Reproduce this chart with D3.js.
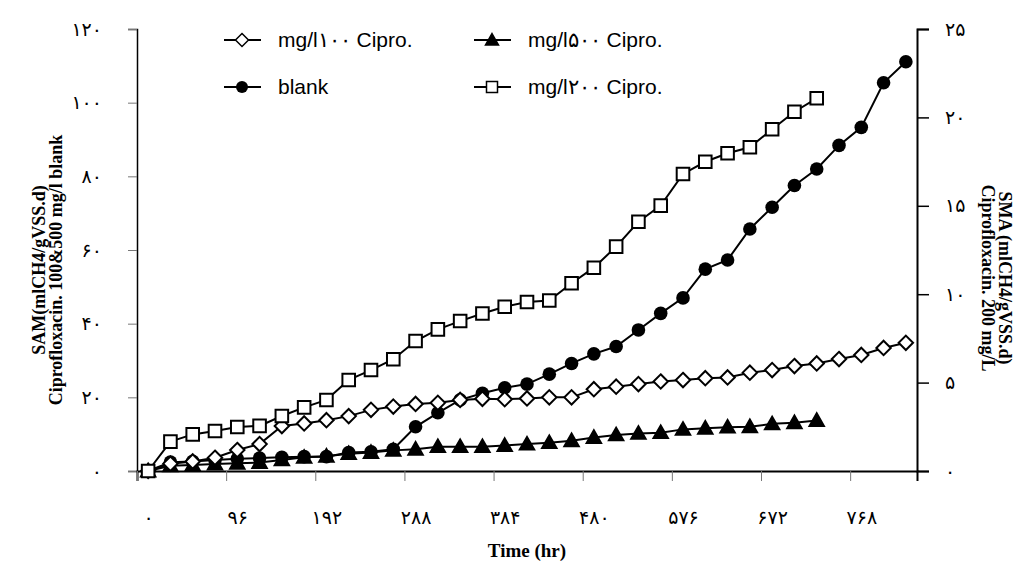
<!DOCTYPE html>
<html>
<head>
<meta charset="utf-8">
<script src="https://cdn.jsdelivr.net/npm/d3@7"></script>
<style>
body{margin:0;background:#fff}
</style>
</head>
<body>
<svg id="chart"></svg>
<script>
// sampling every 24 hr
const hours = d3.range(0, 817, 24);

// left axis series
const blank = [0, 2.4, 2.6, 3.0, 3.3, 3.5, 3.7, 3.9, 3.9, 5.0, 5.2, 5.9, 12.0, 15.8, 19.3, 21.1, 22.6, 23.6,
    26.3, 29.2, 31.8, 33.8, 38.3, 42.8, 47.0, 54.8, 57.3, 65.7, 71.6, 77.5, 82.0, 88.4, 93.3, 105.4, 111.1];
const cipro100 = [0, 2.0, 2.6, 3.6, 5.7, 7.3, 12.2, 12.9, 13.8, 14.9, 16.6, 17.5, 18.2, 18.5, 19.3, 19.6, 19.5,
    19.7, 20.0, 20.0, 22.2, 22.9, 23.6, 24.3, 24.7, 25.2, 25.4, 26.7, 27.4, 28.5, 29.2, 30.4, 31.5, 33.4, 34.8];
const cipro500 = [0, 1.4, 1.6, 1.9, 2.1, 2.3, 3.0, 3.7, 4.0, 4.7, 5.0, 5.6, 5.9, 6.6, 6.6, 6.6, 6.9, 7.3, 7.7,
    8.2, 9.1, 9.8, 10.2, 10.4, 11.3, 11.6, 11.9, 12.0, 12.8, 13.1, 13.7];
// right axis series
const cipro200 = [0, 1.66, 2.07, 2.26, 2.49, 2.55, 3.11, 3.60, 4.02, 5.15, 5.71, 6.32, 7.35, 8.01, 8.48, 8.91,
    9.29, 9.56, 9.64, 10.62, 11.50, 12.69, 14.10, 15.01, 16.80, 17.49, 17.97, 18.31, 19.33, 20.32, 21.08];

const leftTicks = [0, 20, 40, 60, 80, 100, 120];
const leftLabels = ["۰", "۲۰", "۴۰", "۶۰", "۸۰", "۱۰۰", "۱۲۰"];
const rightTicks = [0, 5, 10, 15, 20, 25];
const rightLabels = ["۰", "۵", "۱۰", "۱۵", "۲۰", "۲۵"];
const xTicks = [0, 96, 192, 288, 384, 480, 576, 672, 768];
const xLabels = ["۰", "۹۶", "۱۹۲", "۲۸۸", "۳۸۴", "۴۸۰", "۵۷۶", "۶۷۲", "۷۶۸"];

const legendNames = ["mg/l۱۰۰ Cipro.", "mg/l۵۰۰ Cipro.", "blank", "mg/l۲۰۰ Cipro."];

const width = 1036, height = 567;
const svg = d3.select("#chart").attr("width", width).attr("height", height)
    .style("background-color", "white");

const x = d3.scaleLinear().domain([-12, 828]).range([137, 917]);
const yL = d3.scaleLinear().domain([0, 120]).range([471, 29]);
const yR = d3.scaleLinear().domain([0, 25]).range([471, 29]);

// marker shapes
function markerPath(kind, s) {
    if (kind === "diamond") return `M0,${-s}L${s},0L0,${s}L${-s},0Z`;
    if (kind === "triangle") return `M0,${-s}L${s},${s * 0.75}L${-s},${s * 0.75}Z`;
    if (kind === "square") return `M${-s},${-s}H${s}V${s}H${-s}Z`;
    return null;
}

const tickFont = "DejaVu Sans";
const tickSize = "19px";

// axes
const axL = svg.append("g").attr("transform", "translate(137,0)")
    .call(d3.axisLeft(yL).tickValues(leftTicks).tickSize(9).tickFormat((d, i) => leftLabels[i]));
axL.select(".domain").attr("stroke", "#000").attr("stroke-width", 1.5);
axL.selectAll(".tick line").attr("stroke", "#777");
axL.selectAll("text").attr("x", -35).style("font-family", tickFont).style("font-size", tickSize);

const axR = svg.append("g").attr("transform", "translate(917,0)")
    .call(d3.axisRight(yR).tickValues(rightTicks).tickSize(12).tickFormat((d, i) => rightLabels[i]));
axR.select(".domain").attr("stroke", "#000").attr("stroke-width", 2);
axR.selectAll(".tick line").attr("stroke", "#000").attr("stroke-width", 1.5);
axR.selectAll("text").attr("x", 28).style("font-family", tickFont).style("font-size", tickSize);

// x ticks sit between categories, labels at category centres
const axX = svg.append("g").attr("transform", "translate(0,471)")
    .call(d3.axisBottom(x).tickValues(xTicks.map(d => d - 12)).tickSize(10).tickFormat(""));
axX.select(".domain").attr("stroke", "#000").attr("stroke-width", 2);
axX.selectAll(".tick line").attr("stroke", "#777");
const axXL = svg.append("g").attr("transform", "translate(0,471)")
    .call(d3.axisBottom(x).tickValues(xTicks).tickSize(0).tickFormat((d, i) => xLabels[i]));
axXL.select(".domain").remove();
axXL.selectAll("text").attr("y", 40).style("font-family", tickFont).style("font-size", tickSize);

// axis titles
const titleFont = "'Liberation Serif', 'Times New Roman', serif";
svg.append("text").attr("x", 527).attr("y", 557).attr("text-anchor", "middle")
    .style("font-family", titleFont).style("font-weight", "bold").style("font-size", "19px")
    .text("Time (hr)");
const lt = svg.append("g").attr("transform", "translate(0,270) rotate(-90)");
lt.append("text").attr("x", 0).attr("y", 45).attr("text-anchor", "middle")
    .style("font-family", titleFont).style("font-weight", "bold").style("font-size", "18px")
    .text("SAM(mlCH4/gVSS.d)");
lt.append("text").attr("x", 0).attr("y", 62).attr("text-anchor", "middle")
    .style("font-family", titleFont).style("font-weight", "bold").style("font-size", "18px")
    .text("Ciprofloxacin. 100&500 mg/l blank");
const rt = svg.append("g").attr("transform", "translate(1036,278) rotate(90)");
rt.append("text").attr("x", 0).attr("y", 37).attr("text-anchor", "middle")
    .style("font-family", titleFont).style("font-weight", "bold").style("font-size", "18px")
    .text("SMA (mlCH4/gVSS.d)");
rt.append("text").attr("x", 0).attr("y", 54).attr("text-anchor", "middle")
    .style("font-family", titleFont).style("font-weight", "bold").style("font-size", "18px")
    .text("Ciprofloxacin. 200 mg/L");

// series
const series = [
    {vals: cipro500, y: yL, kind: "triangle", fill: "#000"},
    {vals: blank, y: yL, kind: "circle", fill: "#000"},
    {vals: cipro100, y: yL, kind: "diamond", fill: "#fff"},
    {vals: cipro200, y: yR, kind: "square", fill: "#fff"}
];

series.forEach(s => {
    const pts = s.vals.map((v, i) => [hours[i], v]);
    const line = d3.line().x(d => x(d[0])).y(d => s.y(d[1]));
    svg.append("path").datum(pts).attr("d", line)
        .attr("fill", "none").attr("stroke", "#000").attr("stroke-width", 2);
    const g = svg.append("g");
    if (s.kind === "circle") {
        g.selectAll("circle").data(pts).enter().append("circle")
            .attr("cx", d => x(d[0])).attr("cy", d => s.y(d[1])).attr("r", 6.8)
            .attr("fill", "#000");
    } else {
        const sz = s.kind === "square" ? 6.3 : 7.2;
        g.selectAll("path").data(pts).enter().append("path")
            .attr("transform", d => `translate(${x(d[0])},${s.y(d[1])})`)
            .attr("d", markerPath(s.kind, sz))
            .attr("fill", s.fill).attr("stroke", "#000").attr("stroke-width", 2);
    }
});

// legend
const legendPos = [[224, 40], [474, 40], [224, 87], [474, 87]];
const legendOrder = [series[2], series[0], series[1], series[3]];
legendOrder.forEach((s, i) => {
    const [lx, ly] = legendPos[i];
    const g = svg.append("g").attr("transform", `translate(${lx},${ly})`);
    g.append("line").attr("x1", 0).attr("x2", 37).attr("y1", 0).attr("y2", 0)
        .attr("stroke", "#000").attr("stroke-width", 2);
    if (s.kind === "circle") {
        g.append("circle").attr("cx", 18).attr("cy", 0).attr("r", 6).attr("fill", "#000");
    } else {
        g.append("path").attr("transform", "translate(18,0)")
            .attr("d", markerPath(s.kind, s.kind === "square" ? 5.5 : 6.5))
            .attr("fill", s.fill).attr("stroke", "#000").attr("stroke-width", 1.5);
    }
    g.append("text").attr("x", 54).attr("y", 0).attr("dy", "0.35em")
        .style("font-family", "'Liberation Sans', Arial, sans-serif").style("font-size", "21px")
        .text(legendNames[i]);
});
</script>
</body>
</html>
